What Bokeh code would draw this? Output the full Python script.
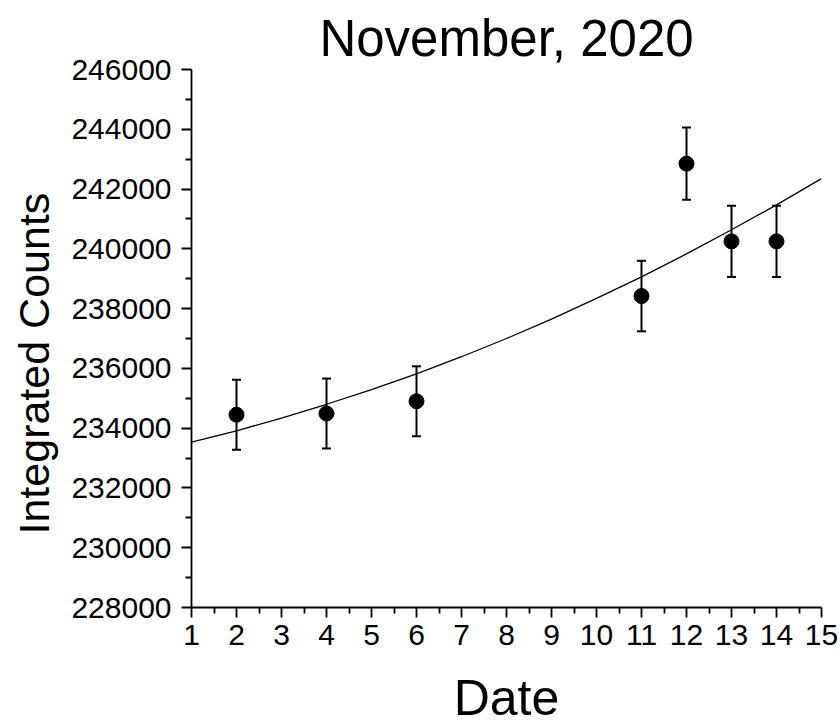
from bokeh.plotting import figure
from bokeh.models import ColumnDataSource, FixedTicker, BasicTickFormatter, Whisker, TeeHead, Range1d, Title
from bokeh.embed import file_html
from bokeh.resources import INLINE

# ---- data ----
dates = [2, 4, 6, 11, 12, 13, 14]
counts = [234450, 234490, 234900, 238420, 242850, 240250, 240250]
errors = [1170, 1170, 1170, 1180, 1210, 1190, 1190]

fit_dates = [1, 2, 3, 4, 5, 6, 7, 8, 9, 10, 11, 12, 13, 14, 15]
fit_counts = [233530, 233910, 234340, 234800, 235290, 235820, 236390, 237000,
              237650, 238340, 239060, 239830, 240640, 241470, 242350]

x_ticks = list(range(1, 16))
x_minor = [1.5 + i for i in range(14)]
y_ticks = list(range(228000, 246001, 2000))
y_minor = list(range(229000, 246000, 2000))

title_text = "November, 2020"
x_label = "Date"
y_label = "Integrated Counts"

FONT = "Liberation Sans"

p = figure(width=840, height=728, output_backend="svg", toolbar_location=None,
           x_range=Range1d(1, 15), y_range=Range1d(228000, 246000),
           min_border_left=190, min_border_right=19, min_border_top=69, min_border_bottom=121,
           title=title_text)

p.outline_line_color = None
p.xgrid.visible = False
p.ygrid.visible = False
p.background_fill_color = "white"
p.border_fill_color = "white"

p.title.text_font = FONT
p.title.text_font_size = "51px"
p.title.text_font_style = "normal"
p.title.align = "center"
p.title.text_color = "black"
p.title.standoff = 6

for ax in (p.xaxis[0], p.yaxis[0]):
    ax.axis_line_color = "black"
    ax.axis_line_width = 1.8
    ax.major_tick_line_color = "black"
    ax.major_tick_line_width = 1.8
    ax.minor_tick_line_color = "black"
    ax.minor_tick_line_width = 1.8
    ax.major_tick_out = 10
    ax.major_tick_in = 0
    ax.minor_tick_out = 6
    ax.minor_tick_in = 0
    ax.major_label_text_font = FONT
    ax.major_label_text_font_size = "30px"
    ax.major_label_text_color = "black"
    ax.axis_label_text_font = FONT
    ax.axis_label_text_font_style = "normal"
    ax.axis_label_text_color = "black"

p.xaxis[0].ticker = FixedTicker(ticks=x_ticks, minor_ticks=x_minor)
p.yaxis[0].ticker = FixedTicker(ticks=y_ticks, minor_ticks=y_minor)
p.yaxis[0].formatter = BasicTickFormatter(use_scientific=False)
p.xaxis[0].axis_label = x_label
p.xaxis[0].axis_label_text_font_size = "50px"
p.xaxis[0].major_label_standoff = 7
p.yaxis[0].major_label_standoff = 10
p.xaxis[0].axis_label_standoff = 22

# y-axis title as a side title so it can sit a little below the frame centre
ytitle = Title(text=y_label, align="left", offset=73, vertical_align="top", standoff=18,
               text_font=FONT, text_font_size="43px", text_font_style="normal",
               text_color="black")
p.add_layout(ytitle, "left")

src = ColumnDataSource(data=dict(
    x=dates, y=counts,
    upper=[c + e for c, e in zip(counts, errors)],
    lower=[c - e for c, e in zip(counts, errors)],
))
fit_src = ColumnDataSource(data=dict(x=fit_dates, y=fit_counts))

p.line("x", "y", source=fit_src, line_color="black", line_width=1.3)

w = Whisker(source=src, base="x", upper="upper", lower="lower",
            line_color="black", line_width=2,
            upper_head=TeeHead(size=9, line_color="black", line_width=2),
            lower_head=TeeHead(size=9, line_color="black", line_width=2))
p.add_layout(w)

p.scatter("x", "y", source=src, size=15, marker="circle",
          fill_color="black", line_color="black")

open("out.html", "w").write(file_html(p, INLINE))
